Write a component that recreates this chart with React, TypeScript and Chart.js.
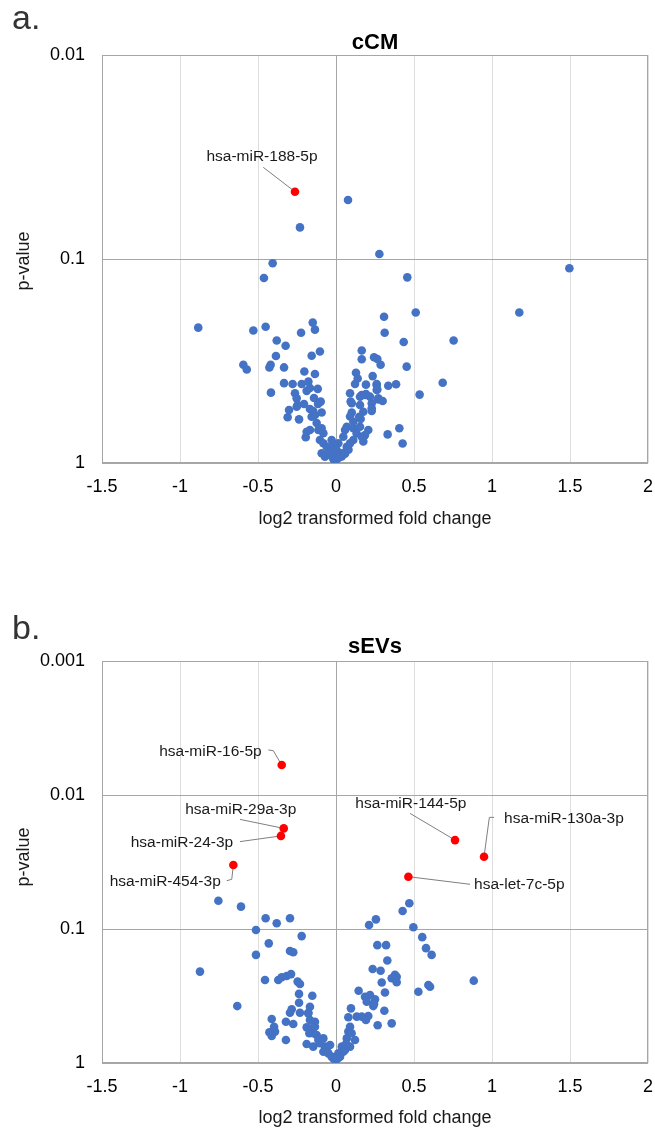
import React, { useEffect, useRef } from "react";
import { Chart, registerables } from "chart.js";

Chart.register(...registerables);

const FONT = "'Liberation Sans', Arial, Helvetica, sans-serif";

// ---------- shared axis data ----------
const X_TICKS = [-1.5, -1, -0.5, 0, 0.5, 1, 1.5, 2];
const X_TITLE = "log2 transformed fold change";
const Y_TITLE = "p-value";

// ---------- panel a: cCM ----------
const CCM_Y_TICKS = [0.01, 0.1, 1];
const ccmBlueX = [
  -0.231, -0.406, -0.462, -0.883, -0.53, -0.451, -0.224, -0.149, -0.135, -0.38,
  -0.323, -0.103, -0.156, -0.385, -0.594, -0.572, -0.419, -0.427, -0.333, -0.203,
  -0.135, -0.333, -0.278, -0.22, -0.177, -0.188, -0.117, -0.417, -0.263, -0.252,
  -0.246, -0.098, -0.301, -0.31, -0.205, -0.092, -0.237, -0.194, -0.188, -0.167,
  -0.252, -0.167, -0.146, -0.156, -0.135, -0.167, -0.124, -0.113, -0.092, -0.081,
  -0.103, -0.081, -0.06, -0.028, -0.092, -0.071, -0.049, -0.017, -0.141, -0.115,
  -0.045, -0.013, 0.006, -0.028, -0.006, -0.017, 0.004,
  0.077, 0.278, 1.496, 0.457, 0.511, 1.175, 0.308, 0.312, 0.754, 0.434,
  0.165, 0.165, 0.244, 0.265, 0.286, 0.453, 0.684, 0.536, 0.128, 0.139,
  0.122, 0.235, 0.261, 0.265, 0.192, 0.335, 0.385, 0.09, 0.165, 0.192,
  0.101, 0.154, 0.229, 0.271, 0.299, 0.229, 0.101, 0.09, 0.175, 0.158,
  0.058, 0.069, 0.111, 0.132, 0.154, 0.175, 0.207, 0.186, 0.331, 0.406,
  0.427, 0.094, 0.111, 0.047, 0.154, 0.186, 0.149, 0.165, 0.015, 0.026,
  0.069, 0.09, 0.111, 0.047, 0.069, 0.004, 0.037, 0.058, 0.08, 0.02,
  0.218, 0.271, 0.229, 0.261, 0.261,
];
const ccmBlueP = [
  0.07, 0.105, 0.124, 0.217, 0.224, 0.215, 0.23, 0.205, 0.222, 0.251,
  0.266, 0.284, 0.298, 0.299, 0.33, 0.348, 0.33, 0.34, 0.34, 0.356,
  0.366, 0.406, 0.41, 0.41, 0.399, 0.443, 0.433, 0.452, 0.455, 0.482,
  0.52, 0.5, 0.55, 0.597, 0.514, 0.566, 0.611, 0.748, 0.703, 0.429,
  0.53, 0.544, 0.556, 0.593, 0.582, 0.689, 0.637, 0.689, 0.676, 0.715,
  0.771, 0.8, 0.832, 0.771, 0.896, 0.931, 0.914, 0.955, 0.48, 0.514,
  0.883, 0.96, 0.955, 0.832, 0.945, 0.931, 0.863,
  0.0514, 0.0945, 0.111, 0.123, 0.183, 0.183, 0.192, 0.23, 0.251, 0.255,
  0.281, 0.31, 0.303, 0.309, 0.33, 0.337, 0.404, 0.462, 0.361, 0.385,
  0.41, 0.375, 0.41, 0.436, 0.413, 0.418, 0.411, 0.455, 0.465, 0.459,
  0.509, 0.52, 0.509, 0.488, 0.497, 0.556, 0.566, 0.592, 0.561, 0.608,
  0.689, 0.664, 0.676, 0.716, 0.664, 0.785, 0.689, 0.73, 0.724, 0.676,
  0.802, 0.5, 0.628, 0.743, 0.473, 0.464, 0.593, 0.743, 0.8, 0.896,
  0.832, 0.8, 0.771, 0.896, 0.863, 0.955, 0.93, 0.9, 0.86, 0.94,
  0.473, 0.482, 0.539, 0.415, 0.439,
];
const ccmRedX = [-0.263];
const ccmRedP = [0.0468];
const ccmRedNames = ["hsa-miR-188-5p"];

// ---------- panel b: sEVs ----------
const SEV_Y_TICKS = [0.001, 0.01, 0.1, 1];
const sevBlueX = [
  -0.754, -0.609, -0.451, -0.38, -0.295, -0.513, -0.22, -0.431, -0.513, -0.295,
  -0.274, -0.872, -0.455, -0.37, -0.348, -0.316, -0.288, -0.246, -0.231, -0.237,
  -0.152, -0.237, -0.633, -0.284, -0.295, -0.231, -0.167, -0.177, -0.412, -0.321,
  -0.274, -0.135, -0.397, -0.391, -0.427, -0.412, -0.321, -0.188, -0.171, -0.188,
  -0.146, -0.178, -0.167, -0.124, -0.113, -0.103, -0.081, -0.071, -0.06, -0.038,
  -0.081, -0.049, -0.028, -0.006, -0.146, -0.156, -0.135,
  0.47, 0.427, 0.256, 0.212, 0.496, 0.553, 0.577, 0.613, 0.265, 0.321,
  0.329, 0.235, 0.286, 0.378, 0.389, 0.357, 0.389, 0.293, 0.883, 0.592,
  0.603, 0.528, 0.314, 0.145, 0.186, 0.218, 0.25, 0.197, 0.244, 0.239,
  0.31, 0.357, 0.267, 0.096, 0.079, 0.133, 0.165, 0.207, 0.192, 0.09,
  0.079, 0.069, 0.122, 0.09, 0.037, 0.047, 0.015, 0.026, -0.017, -0.006,
  0.058, 0.065, 0.1, 0.01,
];
const sevBlueP = [
  0.0615, 0.0681, 0.0832, 0.0906, 0.0832, 0.1017, 0.113, 0.128, 0.156, 0.146,
  0.149, 0.208, 0.24, 0.24, 0.229, 0.224, 0.217, 0.247, 0.257, 0.305,
  0.315, 0.355, 0.376, 0.397, 0.422, 0.422, 0.38, 0.422, 0.47, 0.492,
  0.512, 0.492, 0.536, 0.583, 0.59, 0.629, 0.673, 0.542, 0.6, 0.721,
  0.755, 0.426, 0.478, 0.618, 0.673, 0.713, 0.655, 0.755, 0.8, 0.734,
  0.824, 0.847, 0.897, 0.94, 0.6, 0.551, 0.536,
  0.0643, 0.0734, 0.0847, 0.0933, 0.0971, 0.115, 0.139, 0.156, 0.132, 0.132,
  0.172, 0.199, 0.205, 0.22, 0.227, 0.233, 0.25, 0.251, 0.243, 0.262,
  0.27, 0.294, 0.298, 0.289, 0.32, 0.311, 0.335, 0.349, 0.363, 0.376,
  0.407, 0.506, 0.523, 0.391, 0.456, 0.451, 0.451, 0.446, 0.478, 0.536,
  0.583, 0.655, 0.673, 0.755, 0.755, 0.824, 0.847, 0.897, 0.923, 0.94,
  0.8, 0.72, 0.6, 0.93,
];
const sevRedX = [-0.348, -0.335, -0.353, -0.658, 0.763, 0.949, 0.464];
const sevRedP = [0.00597, 0.01775, 0.0202, 0.0333, 0.0217, 0.0289, 0.0407];
const sevRedNames = [
  "hsa-miR-16-5p",
  "hsa-miR-29a-3p",
  "hsa-miR-24-3p",
  "hsa-miR-454-3p",
  "hsa-miR-144-5p",
  "hsa-miR-130a-3p",
  "hsa-let-7c-5p",
];

// ---------- label layout (pixel offsets from the labelled point) ----------
type LabelLayout = { dx: number; dy: number; align: CanvasTextAlign; path: number[][] };
const ccmLabelLayout: LabelLayout[] = [
  { dx: -33, dy: -35, align: "center", path: [[-31.7, -24.4], [0, 0]] },
];
const sevLabelLayout: LabelLayout[] = [
  { dx: -20, dy: -13, align: "right", path: [[-13.4, -15], [-8.4, -14.3], [0, 0]] },
  { dx: -43, dy: -18.3, align: "center", path: [[-43.7, -9], [0, 0]] },
  { dx: -47.7, dy: 7.3, align: "right", path: [[-41, 5.7], [0, 0]] },
  { dx: -12.6, dy: 16.7, align: "right", path: [[-6.6, 15.7], [-1.6, 14.3], [0, 0]] },
  { dx: -44.2, dy: -36, align: "center", path: [[-45, -26.7], [0, 0]] },
  { dx: 20, dy: -38.4, align: "left", path: [[10, -39.4], [5.3, -39.4], [0, 0]] },
  { dx: 65.7, dy: 8.3, align: "left", path: [[61.7, 7.6], [0, 0]] },
];

type PanelCfg = {
  height: number;
  padTop: number;
  padBottom: number;
  letter: string;
  letterY: number;
  title: string;
  titleY: number;
  xTitleY: number;
  yTitleY: number;
  yMin: number;
  yTicks: number[];
  blueX: number[];
  blueP: number[];
  redX: number[];
  redP: number[];
  redNames: string[];
  labels: LabelLayout[];
};

const panels: PanelCfg[] = [
  {
    height: 560,
    padTop: 55,
    padBottom: 57,
    letter: "a.",
    letterY: 29,
    title: "cCM",
    titleY: 49,
    xTitleY: 524,
    yTitleY: 261,
    yMin: 0.01,
    yTicks: CCM_Y_TICKS,
    blueX: ccmBlueX,
    blueP: ccmBlueP,
    redX: ccmRedX,
    redP: ccmRedP,
    redNames: ccmRedNames,
    labels: ccmLabelLayout,
  },
  {
    height: 570,
    padTop: 101,
    padBottom: 27,
    letter: "b.",
    letterY: 79,
    title: "sEVs",
    titleY: 93,
    xTitleY: 563,
    yTitleY: 297,
    yMin: 0.001,
    yTicks: SEV_Y_TICKS,
    blueX: sevBlueX,
    blueP: sevBlueP,
    redX: sevRedX,
    redP: sevRedP,
    redNames: sevRedNames,
    labels: sevLabelLayout,
  },
];

function makeDecorPlugin(cfg: PanelCfg) {
  return {
    id: "decor",
    beforeDatasetsDraw(chart: any) {
      const { ctx, chartArea } = chart;
      const xs = chart.scales.x;
      const ys = chart.scales.y;
      ctx.save();
      // frame
      ctx.strokeStyle = "#a6a6a6";
      ctx.lineWidth = 1;
      const l = Math.round(chartArea.left) + 0.5;
      const t = Math.round(chartArea.top) + 0.5;
      const r = Math.round(chartArea.right) - 0.5;
      const b = Math.round(chartArea.bottom) - 0.5;
      ctx.strokeRect(l, t, r - l, b - t);
      // leader lines
      ctx.strokeStyle = "#7f7f7f";
      ctx.lineWidth = 1;
      cfg.labels.forEach((lab, i) => {
        const px = xs.getPixelForValue(cfg.redX[i]);
        const py = ys.getPixelForValue(cfg.redP[i]);
        ctx.beginPath();
        lab.path.forEach((p, k) => {
          if (k === 0) ctx.moveTo(px + p[0], py + p[1]);
          else ctx.lineTo(px + p[0], py + p[1]);
        });
        ctx.stroke();
      });
      ctx.restore();
    },
    afterDraw(chart: any) {
      const { ctx, chartArea } = chart;
      const xs = chart.scales.x;
      const ys = chart.scales.y;
      const cx = (chartArea.left + chartArea.right) / 2;
      ctx.save();
      // panel letter
      ctx.fillStyle = "#333333";
      ctx.font = `34px ${FONT}`;
      ctx.textAlign = "left";
      ctx.textBaseline = "alphabetic";
      ctx.fillText(cfg.letter, 12, cfg.letterY);
      // title
      ctx.fillStyle = "#000000";
      ctx.font = `bold 22px ${FONT}`;
      ctx.textAlign = "center";
      ctx.fillText(cfg.title, cx, cfg.titleY);
      // x title
      ctx.font = `18px ${FONT}`;
      ctx.fillStyle = "#1a1a1a";
      ctx.fillText(X_TITLE, cx, cfg.xTitleY);
      // y title
      ctx.save();
      ctx.translate(29, cfg.yTitleY);
      ctx.rotate(-Math.PI / 2);
      ctx.textAlign = "center";
      ctx.textBaseline = "alphabetic";
      ctx.fillText(Y_TITLE, 0, 0);
      ctx.restore();
      // point labels
      ctx.font = `15.5px ${FONT}`;
      ctx.fillStyle = "#1a1a1a";
      ctx.textBaseline = "middle";
      cfg.labels.forEach((lab, i) => {
        const px = xs.getPixelForValue(cfg.redX[i]);
        const py = ys.getPixelForValue(cfg.redP[i]);
        ctx.textAlign = lab.align;
        ctx.fillText(cfg.redNames[i], px + lab.dx, py + lab.dy);
      });
      ctx.restore();
    },
  };
}

function Panel({ cfg, top }: { cfg: PanelCfg; top: number }) {
  const ref = useRef<HTMLCanvasElement | null>(null);
  useEffect(() => {
    if (!ref.current) return;
    const chart = new Chart(ref.current, {
      type: "scatter",
      data: {
        datasets: [
          {
            data: cfg.blueX.map((x, i) => ({ x, y: cfg.blueP[i] })),
            backgroundColor: "#4472C4",
            borderWidth: 0,
            pointRadius: 4.3,
            pointHoverRadius: 4.3,
          },
          {
            data: cfg.redX.map((x, i) => ({ x, y: cfg.redP[i] })),
            backgroundColor: "#FF0000",
            borderWidth: 0,
            pointRadius: 4.3,
            pointHoverRadius: 4.3,
          },
        ],
      },
      options: {
        responsive: false,
        animation: false,
        events: [],
        layout: { padding: { left: 0, right: 7, top: cfg.padTop, bottom: cfg.padBottom } },
        plugins: {
          legend: { display: false },
          tooltip: { enabled: false },
          title: { display: false },
        },
        scales: {
          x: {
            type: "linear",
            min: -1.5,
            max: 2,
            afterBuildTicks: (s: any) => {
              s.ticks = X_TICKS.map((v) => ({ value: v }));
            },
            afterFit: (s: any) => {
              s.height = 40;
              s.paddingLeft = 0;
              s.paddingRight = 0;
            },
            grid: {
              color: (c: any) => (c.tick && c.tick.value === 0 ? "#a6a6a6" : "#dedede"),
              drawTicks: false,
              lineWidth: 1,
            },
            border: { display: false },
            ticks: {
              padding: 13,
              color: "#000000",
              autoSkip: false,
              maxRotation: 0,
              callback: (v: any) => String(v),
              font: { family: FONT, size: 18 },
            },
          },
          y: {
            type: "logarithmic",
            reverse: true,
            min: cfg.yMin,
            max: 1,
            afterBuildTicks: (s: any) => {
              s.ticks = cfg.yTicks.map((v) => ({ value: v }));
            },
            afterFit: (s: any) => {
              s.width = 102;
              s.paddingTop = 0;
              s.paddingBottom = 0;
            },
            grid: { color: "#a6a6a6", drawTicks: false, lineWidth: 1 },
            border: { display: false },
            ticks: {
              padding: 17,
              color: "#000000",
              autoSkip: false,
              callback: (v: any) => String(v),
              font: { family: FONT, size: 18 },
            },
          },
        },
      } as any,
      plugins: [makeDecorPlugin(cfg)],
    });
    return () => chart.destroy();
  }, [cfg]);
  return (
    <div style={{ position: "absolute", left: 0, top, width: 655, height: cfg.height }}>
      <canvas ref={ref} width={655} height={cfg.height} style={{ display: "block" }} />
    </div>
  );
}

export default function App() {
  return (
    <div style={{ position: "absolute", left: 0, top: 0, width: 655, height: 1130, background: "#ffffff" }}>
      <Panel cfg={panels[0]} top={0} />
      <Panel cfg={panels[1]} top={560} />
    </div>
  );
}
